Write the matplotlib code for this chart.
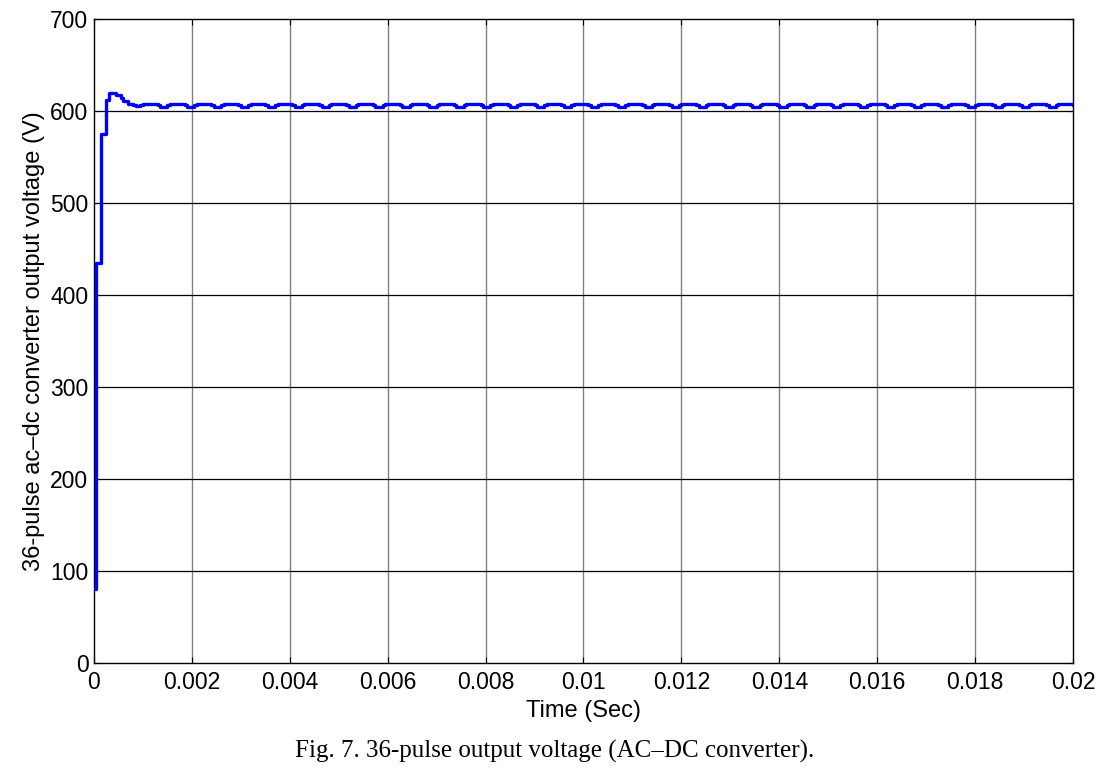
import numpy as np
import matplotlib.pyplot as plt

# sample time of the scope trace (s)
Ts = 5e-5

# start-up transient (V)
v_start = [80, 435, 435, 575, 575, 612, 620, 620, 620, 617, 617, 614,
           611, 611, 608, 608, 606, 605, 605]

# steady-state ripple, one row per ripple cycle (V)
v_ripple = [
    606, 607.5, 607.5, 607.5, 607.5, 607.5, 607.5, 606, 604.5, 604.5, 604.5,
    606, 607.5, 607.5, 607.5, 607.5, 607.5, 607.5, 606, 604.5, 604.5, 604.5,
    606, 607.5, 607.5, 607.5, 607.5, 607.5, 607.5, 606, 604.5, 604.5, 604.5,
    606, 607.5, 607.5, 607.5, 607.5, 607.5, 607.5, 606, 604.5, 604.5, 604.5,
    606, 607.5, 607.5, 607.5, 607.5, 607.5, 607.5, 606, 604.5, 604.5, 604.5,
    606, 607.5, 607.5, 607.5, 607.5, 607.5, 607.5, 606, 604.5, 604.5, 604.5,
    606, 607.5, 607.5, 607.5, 607.5, 607.5, 607.5, 606, 604.5, 604.5, 604.5,
    606, 607.5, 607.5, 607.5, 607.5, 607.5, 607.5, 606, 604.5, 604.5, 604.5,
    606, 607.5, 607.5, 607.5, 607.5, 607.5, 607.5, 606, 604.5, 604.5, 604.5,
    606, 607.5, 607.5, 607.5, 607.5, 607.5, 607.5, 606, 604.5, 604.5, 604.5,
    606, 607.5, 607.5, 607.5, 607.5, 607.5, 607.5, 606, 604.5, 604.5, 604.5,
    606, 607.5, 607.5, 607.5, 607.5, 607.5, 607.5, 606, 604.5, 604.5, 604.5,
    606, 607.5, 607.5, 607.5, 607.5, 607.5, 607.5, 606, 604.5, 604.5, 604.5,
    606, 607.5, 607.5, 607.5, 607.5, 607.5, 607.5, 606, 604.5, 604.5, 604.5,
    606, 607.5, 607.5, 607.5, 607.5, 607.5, 607.5, 606, 604.5, 604.5, 604.5,
    606, 607.5, 607.5, 607.5, 607.5, 607.5, 607.5, 606, 604.5, 604.5, 604.5,
    606, 607.5, 607.5, 607.5, 607.5, 607.5, 607.5, 606, 604.5, 604.5, 604.5,
    606, 607.5, 607.5, 607.5, 607.5, 607.5, 607.5, 606, 604.5, 604.5, 604.5,
    606, 607.5, 607.5, 607.5, 607.5, 607.5, 607.5, 606, 604.5, 604.5, 604.5,
    606, 607.5, 607.5, 607.5, 607.5, 607.5, 607.5, 606, 604.5, 604.5, 604.5,
    606, 607.5, 607.5, 607.5, 607.5, 607.5, 607.5, 606, 604.5, 604.5, 604.5,
    606, 607.5, 607.5, 607.5, 607.5, 607.5, 607.5, 606, 604.5, 604.5, 604.5,
    606, 607.5, 607.5, 607.5, 607.5, 607.5, 607.5, 606, 604.5, 604.5, 604.5,
    606, 607.5, 607.5, 607.5, 607.5, 607.5, 607.5, 606, 604.5, 604.5, 604.5,
    606, 607.5, 607.5, 607.5, 607.5, 607.5, 607.5, 606, 604.5, 604.5, 604.5,
    606, 607.5, 607.5, 607.5, 607.5, 607.5, 607.5, 606, 604.5, 604.5, 604.5,
    606, 607.5, 607.5, 607.5, 607.5, 607.5, 607.5, 606, 604.5, 604.5, 604.5,
    606, 607.5, 607.5, 607.5, 607.5, 607.5, 607.5, 606, 604.5, 604.5, 604.5,
    606, 607.5, 607.5, 607.5, 607.5, 607.5, 607.5, 606, 604.5, 604.5, 604.5,
    606, 607.5, 607.5, 607.5, 607.5, 607.5, 607.5, 606, 604.5, 604.5, 604.5,
    606, 607.5, 607.5, 607.5, 607.5, 607.5, 607.5, 606, 604.5, 604.5, 604.5,
    606, 607.5, 607.5, 607.5, 607.5, 607.5, 607.5, 606, 604.5, 604.5, 604.5,
    606, 607.5, 607.5, 607.5, 607.5, 607.5, 607.5, 606, 604.5, 604.5, 604.5,
    606, 607.5, 607.5, 607.5, 607.5, 607.5, 607.5, 606, 604.5, 604.5, 604.5,
    606, 607.5, 607.5, 607.5, 607.5, 607.5, 607.5, 606, 604.5, 604.5, 604.5,
]

x_ticks = [0, 0.002, 0.004, 0.006, 0.008, 0.01, 0.012, 0.014, 0.016, 0.018, 0.02]
x_labels = ['0', '0.002', '0.004', '0.006', '0.008', '0.01', '0.012',
            '0.014', '0.016', '0.018', '0.02']
y_ticks = [0, 100, 200, 300, 400, 500, 600, 700]

v = np.array(v_start + v_ripple, dtype=float)
t = np.arange(len(v)) * Ts

plt.rcParams['font.family'] = ['Liberation Sans', 'DejaVu Sans']

fig = plt.figure(figsize=(11.03, 7.76), dpi=100)
ax = fig.add_axes([0.0852, 0.1456, 0.8876, 0.8299])

# grid: vertical gray, horizontal black (as in the scope export)
for xt in x_ticks[1:-1]:
    ax.axvline(xt, color='#808080', linewidth=1.0, zorder=1)
for yt in y_ticks[1:-1]:
    ax.axhline(yt, color='black', linewidth=0.9, zorder=1)

ax.plot(t, v, color='#0000ff', linewidth=2.4, drawstyle='steps-post', zorder=3)

ax.set_xlim(0, 0.02)
ax.set_ylim(0, 700)
ax.set_xticks(x_ticks)
ax.set_xticklabels(x_labels)
ax.set_yticks(y_ticks)
ax.tick_params(direction='in', top=True, right=True, labelsize=16.5, length=4)
ax.tick_params(axis='x', pad=6)
ax.tick_params(axis='y', pad=4)
for s in ax.spines.values():
    s.set_linewidth(1.0)

ax.set_xlabel('Time (Sec)', fontsize=17, labelpad=4)
ax.set_ylabel('36-pulse ac\u2013dc converter output voltage (V)', fontsize=17, labelpad=4)

fig.text(0.503, 0.031, 'Fig. 7. 36-pulse output voltage (AC\u2013DC converter).',
         ha='center', va='center', fontsize=18, family=['Liberation Serif', 'DejaVu Serif'])

fig.savefig('out.png', dpi=100)
